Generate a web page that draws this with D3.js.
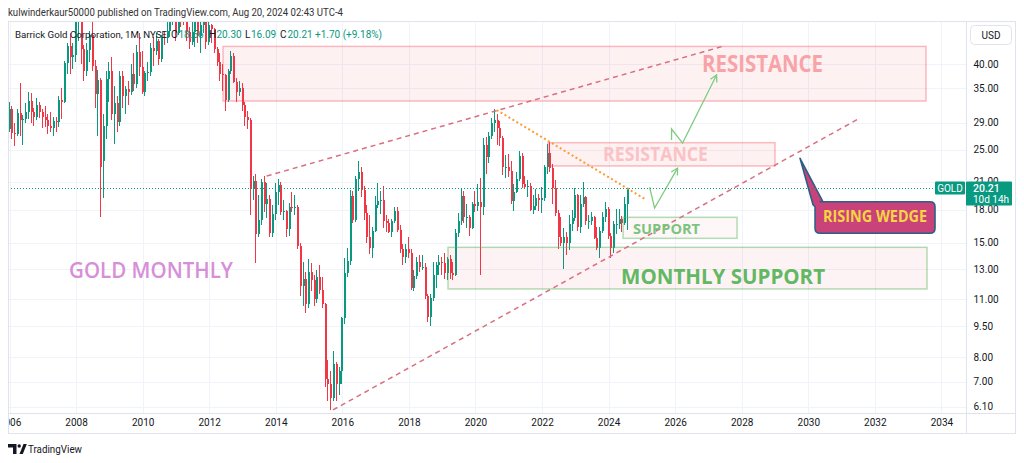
<!DOCTYPE html>
<html><head><meta charset="utf-8">
<script src="https://cdn.jsdelivr.net/npm/d3@7"></script>
<style>html,body{margin:0;padding:0;background:#fff;}svg{display:block;}</style>
</head><body>
<svg id="chart" width="1024" height="463"></svg>
<script>
// ---------- DATA (Barrick Gold, monthly, Jan 2006 .. Aug 2024) ----------
const startYear = 2006;
const opens = [
28.0,31.3,27.4,27.2,30.6,29.4,29.6,30.8,32.7,30.7,30.0,31.9,
30.7,29.9,29.5,28.5,28.2,29.2,29.1,32.9,32.5,40.3,44.1,41.7,
42.0,51.5,52.6,43.4,38.6,43.2,47.0,39.5,34.0,36.7,23.5,28.5,
36.8,38.5,30.4,32.4,29.1,37.5,33.6,34.9,34.3,37.9,35.9,42.7,
39.4,34.4,38.2,38.3,43.6,42.9,45.4,41.2,46.4,46.3,48.1,51.7,
53.2,47.4,52.1,51.9,51.0,47.6,45.3,47.6,51.0,46.6,49.5,53.3,
45.3,49.5,48.4,43.5,40.4,37.8,37.6,32.9,38.5,41.8,36.3,34.3,
35.0,31.9,29.9,29.4,20.2,21.1,15.7,17.0,21.0,18.6,19.1,15.8,
17.6,19.8,20.6,17.8,17.9,16.2,18.3,18.2,18.3,14.7,11.8,12.3,
10.7,12.8,12.2,11.0,12.4,11.6,10.7,7.1,6.9,6.4,7.7,6.9,
7.4,9.9,12.7,13.6,19.4,17.0,21.3,22.1,20.0,17.7,15.5,14.6,
16.0,18.5,18.9,19.0,16.9,16.7,15.9,16.9,17.9,16.1,14.5,13.9,
14.5,14.2,11.7,12.5,13.5,13.1,13.1,11.2,10.0,11.1,12.6,13.3,
13.5,13.4,12.7,13.7,12.7,12.6,15.8,16.9,19.4,17.3,17.3,16.3,
18.6,18.4,18.8,18.3,25.7,24.0,26.9,28.9,29.4,28.1,26.7,22.8,
22.8,22.3,18.9,19.8,21.3,24.2,20.7,20.4,20.5,18.0,18.4,19.2,
19.0,19.2,22.7,24.5,22.6,20.3,17.7,15.5,15.0,15.5,15.0,16.6,
17.2,19.5,16.4,18.6,19.3,16.9,16.9,17.3,15.4,14.6,16.0,17.3,
18.1,15.6,14.6,16.6,16.6,17.1,16.7,18.56];
const highs = [
32.5,31.8,29.0,31.2,36.0,30.3,32.3,34.3,34.2,31.5,33.3,32.5,
31.2,31.8,30.5,30.7,30.0,30.0,33.5,35.0,40.6,45.0,47.5,45.0,
52.0,55.5,56.0,44.5,45.0,48.0,50.5,41.0,38.8,37.0,30.5,38.5,
40.5,41.5,35.5,33.5,38.5,38.5,35.5,36.5,40.0,42.5,44.5,47.5,
43.0,38.5,40.5,45.0,46.5,47.5,46.0,47.0,48.0,50.5,53.5,54.5,
53.8,52.5,53.5,54.5,51.5,49.0,50.5,54.0,56.0,51.0,55.0,54.0,
50.5,50.0,48.9,44.0,42.5,40.0,38.0,39.0,43.0,42.5,37.0,36.5,
36.0,32.5,31.0,29.8,21.6,21.9,19.5,21.3,21.6,20.8,19.5,18.5,
20.8,21.3,21.0,19.0,18.0,18.7,19.8,19.5,18.5,15.0,13.5,12.8,
13.7,13.4,12.6,12.9,13.3,12.4,10.8,7.9,7.4,8.3,7.8,7.6,
10.0,13.8,14.6,20.0,19.9,21.7,23.5,22.8,20.5,18.5,17.5,16.4,
19.4,20.8,19.9,20.5,17.5,17.1,17.1,18.3,18.3,16.5,14.9,14.9,
15.5,14.5,12.9,13.9,14.0,14.0,13.4,11.3,11.3,13.5,13.5,14.0,
13.9,14.2,13.9,14.0,13.5,16.2,17.7,20.2,19.9,18.6,17.5,18.8,
19.9,20.7,21.4,26.7,26.8,27.5,29.8,31.2,30.5,29.3,27.0,24.3,
24.4,23.5,20.7,22.1,24.8,24.6,21.7,21.2,20.8,19.5,20.2,19.6,
20.4,23.0,25.8,26.1,23.1,21.2,18.0,17.3,16.3,15.9,17.5,18.0,
20.3,19.6,19.5,21.0,19.4,17.5,17.8,17.4,16.4,16.4,17.8,18.8,
18.3,15.8,16.9,18.1,18.1,17.4,19.3,20.30];
const lows = [
27.6,26.5,25.5,27.0,27.0,25.7,28.9,29.6,29.0,28.5,29.5,29.8,
28.2,28.3,27.2,27.5,27.0,27.6,28.3,29.6,32.3,38.0,37.8,39.0,
40.5,45.5,40.0,36.5,37.5,40.5,38.5,31.5,27.0,17.3,19.2,26.5,
32.5,29.5,25.8,27.5,28.5,31.5,30.5,32.0,33.8,34.5,35.0,37.5,
34.0,33.5,36.5,37.5,39.5,42.0,39.8,40.5,44.5,45.0,46.5,49.5,
45.5,47.0,49.0,49.5,45.5,43.5,44.5,44.0,45.0,42.5,47.5,43.5,
44.5,45.0,42.5,39.5,36.5,34.5,31.0,32.5,38.0,36.0,32.5,33.5,
31.0,28.5,28.0,17.5,19.0,13.4,15.5,16.5,17.8,17.2,15.5,15.5,
17.0,18.5,17.5,17.0,15.5,15.6,17.8,17.5,14.5,11.2,10.6,10.2,
10.5,11.5,10.6,10.8,11.3,10.5,6.8,6.3,6.0,6.3,6.3,6.5,
6.9,9.6,12.4,13.3,16.7,16.8,19.9,19.3,17.0,15.0,14.1,13.8,
15.9,18.2,17.6,16.3,15.9,15.8,15.5,16.7,15.9,14.2,13.3,13.4,
13.8,11.6,11.5,12.3,12.8,12.9,11.0,9.7,9.5,10.9,11.7,12.6,
12.6,12.3,12.2,12.3,12.2,12.5,15.5,16.5,16.7,16.3,15.6,16.2,
17.8,17.9,12.6,17.5,21.9,23.2,26.5,27.5,25.7,25.5,21.8,21.4,
21.5,18.6,17.9,19.7,21.1,20.3,20.2,19.3,17.9,17.6,18.0,17.9,
17.7,18.9,21.9,22.1,18.6,17.4,14.5,14.7,13.0,14.0,14.4,16.0,
16.9,16.0,15.8,18.3,16.5,16.2,16.5,15.3,14.4,13.8,15.8,16.8,
15.3,13.8,14.2,15.7,16.2,15.9,16.5,16.09];
const closes = [
31.3,27.4,27.2,30.6,29.4,29.6,30.8,32.7,30.7,30.0,31.9,30.7,
29.9,29.5,28.5,28.2,29.2,29.1,32.9,32.5,40.3,44.1,41.7,42.0,
51.5,52.6,43.4,38.6,43.2,47.0,39.5,34.0,36.7,22.7,28.5,36.8,
38.5,30.4,32.4,29.1,37.5,33.6,34.9,34.3,37.9,35.9,42.7,39.4,
34.4,38.2,38.3,43.6,42.9,45.4,41.2,46.4,46.3,48.1,51.7,53.2,
47.4,52.1,51.9,51.0,47.6,45.3,47.6,51.0,46.6,49.5,53.3,45.3,
49.5,48.4,43.5,40.4,37.8,37.6,32.9,38.5,41.8,36.3,34.3,35.0,
31.9,29.9,29.4,20.2,21.1,15.7,17.0,21.0,18.6,19.1,15.8,17.6,
19.8,20.6,17.8,17.9,16.2,18.3,18.2,18.3,14.7,11.8,12.3,10.7,
12.8,12.2,11.0,12.4,11.6,10.7,7.1,6.9,6.4,7.7,6.9,7.4,
9.9,12.7,13.6,19.4,17.0,21.3,22.1,20.0,17.7,15.5,14.6,16.0,
18.5,18.9,19.0,16.9,16.7,15.9,16.9,17.9,16.1,14.5,13.9,14.5,
14.2,11.7,12.5,13.5,13.1,13.1,11.2,10.0,11.1,12.6,13.3,13.5,
13.4,12.7,13.7,12.7,12.6,15.8,16.9,19.4,17.3,17.3,16.3,18.6,
18.4,18.8,18.3,25.7,24.0,26.9,28.9,29.4,28.1,26.7,22.8,22.8,
22.3,18.9,19.8,21.3,24.2,20.7,20.4,20.5,18.0,18.4,19.2,19.0,
19.2,22.7,24.5,22.6,20.3,17.7,15.5,15.0,15.5,15.0,16.6,17.2,
19.5,16.4,18.6,19.3,16.9,16.9,17.3,15.4,14.6,16.0,17.3,18.1,
15.6,14.6,16.6,16.6,17.1,16.7,18.51,20.21];

const yTicks = [40, 35, 29, 25, 21, 18, 15, 13, 11, 9.5, 8, 7, 6.1];
const yearTicks = [2006,2008,2010,2012,2014,2016,2018,2020,2022,2024,2026,2028,2030,2032,2034];
const lastPrice = 20.21;
const legendLabels = ["O", "H", "L", "C"];
const legendValues = ["18.56", "20.30", "16.09", "20.21"];

// drawings, anchored in (decimal year, price)
const resistanceZone = [2012.414, 2033.537, 32.67, 44.1];
const resistanceSmall = [2022.18, 2029.0, 22.87, 25.99];
const monthlySupport = [2019.175, 2033.567, 11.64, 14.63];
const supportZone = [2024.435, 2027.86, 15.37, 17.25];
const wedgeUpper = [[2013.727, 21.64], [2027.498, 44.27]];
const wedgeLower = [[2015.719, 5.99], [2031.555, 29.76]];
const downTrend = [[2020.638, 31.1], [2025.104, 19.05]];
const arrowPath1 = [[2025.232, 20.37], [2025.382, 18.16], [2026.073, 22.61]];
const arrowPath2 = [[2025.892, 26.37], [2025.892, 28.02], [2026.223, 25.94], [2027.245, 37.68]];
const calloutTip = [2029.752, 23.85];
const calloutBox = [2030.203, 2033.808, 15.80, 18.79];
const textAnchors = [
  {t:"RESISTANCE", a:[2026.807, 2030.444, 40.18]},
  {t:"RESISTANCE", a:[2023.833, 2026.988, 24.42]},
  {t:"MONTHLY SUPPORT", a:[2024.374, 2030.504, 12.47]},
  {t:"SUPPORT", a:[2024.735, 2026.748, 16.18]},
  {t:"GOLD MONTHLY", a:[2007.787, 2012.715, 12.92]},
  {t:"RISING WEDGE", a:[2030.444, 2033.569, 17.31]}
];
const textStyles = [
  {size:23, color:"#f8a3a8", weight:700},
  {size:19.5, color:"#fbc2c5", weight:700},
  {size:21, color:"#62b863", weight:700},
  {size:14, color:"#7cc47e", weight:700},
  {size:22, color:"#d68fd8", weight:600},
  {size:15.5, color:"#f7d443", weight:700}
];

// ---------- LAYOUT ----------
const W = 1024, H = 463;
const L = 8, R = 966.5, T = 21, B = 413;
const UI = "Roboto, 'Noto Sans', sans-serif";
const ANN = "'Open Sans', 'Noto Sans', sans-serif";
const UP = "#089981", DOWN = "#f23645";

const svg = d3.select("#chart");
svg.append("rect").attr("width", W).attr("height", H).attr("fill", "#fff");

const x = d3.scaleLinear().domain([2008, 2034]).range([76.1, 941.4]);
const y = d3.scaleLog().domain([5.89, 50.7]).range([B, T]);

const defs = svg.append("defs");
defs.append("clipPath").attr("id", "plotclip").append("rect")
  .attr("x", L).attr("y", T).attr("width", R - L).attr("height", B - T);
defs.append("clipPath").attr("id", "xclip").append("rect")
  .attr("x", L + 1).attr("y", B).attr("width", R - L - 1).attr("height", 20);

// header
svg.append("text").attr("x", 8).attr("y", 16).attr("font-family", UI).attr("font-size", 11)
  .attr("fill", "#333").attr("textLength", 335).attr("lengthAdjust", "spacingAndGlyphs")
  .text("kulwinderkaur50000 published on TradingView.com, Aug 20, 2024 02:43 UTC-4");

const plot = svg.append("g").attr("clip-path", "url(#plotclip)");

// grid
plot.append("g").selectAll("line").data(yTicks).join("line")
  .attr("x1", L).attr("x2", R).attr("y1", d => Math.round(y(d)) + 0.5).attr("y2", d => Math.round(y(d)) + 0.5)
  .attr("stroke", "#f0f3fa").attr("stroke-width", 1);
plot.append("g").selectAll("line").data(yearTicks).join("line")
  .attr("y1", T).attr("y2", B).attr("x1", d => Math.round(x(d)) + 0.5).attr("x2", d => Math.round(x(d)) + 0.5)
  .attr("stroke", "#f0f3fa").attr("stroke-width", 1);

// legend
const lg = svg.append("g").attr("font-family", UI).attr("font-size", 10);
lg.append("text").attr("x", 15).attr("y", 37.5).attr("fill", "#131722").attr("font-size", 9.7)
  .text("Barrick Gold Corporation, 1M, NYSE");
const legendX = [171, 209, 245, 280];
legendLabels.forEach((k, i) => {
  lg.append("text").attr("x", legendX[i]).attr("y", 37.5).attr("fill", "#131722").text(k);
  lg.append("text").attr("x", legendX[i] + (k === "L" ? 6 : 7.5)).attr("y", 37.5).attr("fill", UP).text(legendValues[i]);
});
lg.append("text").attr("x", 315).attr("y", 37.5).attr("fill", UP).text("+1.70 (+9.18%)");

// candles
const candles = closes.map((c, i) => ({t: startYear + i / 12, o: opens[i], h: highs[i], l: lows[i], c}));
const cg = plot.append("g").attr("shape-rendering", "crispEdges");
const col = d => d.c >= d.o ? UP : DOWN;
cg.selectAll("rect.wick").data(candles).join("rect").attr("class", "wick")
  .attr("x", d => Math.round(x(d.t)) - 1).attr("width", 1)
  .attr("y", d => y(d.h)).attr("height", d => Math.max(1, y(d.l) - y(d.h)))
  .attr("fill", col);
cg.selectAll("rect.body").data(candles).join("rect").attr("class", "body")
  .attr("x", d => Math.round(x(d.t)) - 1).attr("width", 2)
  .attr("y", d => y(Math.max(d.o, d.c)))
  .attr("height", d => Math.max(1, y(Math.min(d.o, d.c)) - y(Math.max(d.o, d.c))))
  .attr("fill", col);

// zones
function zone(z, fill, stroke) {
  plot.append("rect").attr("x", x(z[0])).attr("width", x(z[1]) - x(z[0]))
    .attr("y", y(z[3])).attr("height", y(z[2]) - y(z[3]))
    .attr("fill", fill).attr("stroke", stroke).attr("stroke-width", 1.5);
}
zone(resistanceZone, "rgba(242,54,69,0.07)", "rgba(242,54,69,0.33)");
zone(resistanceSmall, "rgba(242,54,69,0.07)", "rgba(242,54,69,0.33)");
zone(monthlySupport, "rgba(242,54,69,0.06)", "rgba(76,175,80,0.42)");
zone(supportZone, "rgba(242,54,69,0.04)", "rgba(76,175,80,0.42)");

const line = d3.line().x(d => x(d[0])).y(d => y(d[1]));
// wedge lines
[wedgeUpper, wedgeLower].forEach(p => plot.append("path").attr("d", line(p))
  .attr("fill", "none").attr("stroke", "#d8707f").attr("stroke-width", 1.5).attr("stroke-dasharray", "5 4"));
// orange dotted trend
plot.append("path").attr("d", line(downTrend)).attr("fill", "none")
  .attr("stroke", "#fb9c32").attr("stroke-width", 2).attr("stroke-dasharray", "2 2.6");

// green arrows
function arrow(p) {
  plot.append("path").attr("d", line(p)).attr("fill", "none").attr("stroke", "#7fcc80")
    .attr("stroke-width", 1.3).attr("stroke-linejoin", "miter");
  const a = p[p.length - 2], b = p[p.length - 1];
  const ax = x(a[0]), ay = y(a[1]), bx = x(b[0]), by = y(b[1]);
  const ang = Math.atan2(by - ay, bx - ax), len = 7.5;
  const pts = [[bx - len * Math.cos(ang - 0.5), by - len * Math.sin(ang - 0.5)], [bx, by],
               [bx - len * Math.cos(ang + 0.5), by - len * Math.sin(ang + 0.5)]];
  plot.append("path").attr("d", "M" + pts.map(q => q.join(",")).join("L"))
    .attr("fill", "none").attr("stroke", "#7fcc80").attr("stroke-width", 1.3);
}
arrow(arrowPath1);
arrow(arrowPath2);

// callout
{
  const x0 = x(calloutBox[0]), x1 = x(calloutBox[1]), y0 = y(calloutBox[3]), y1 = y(calloutBox[2]);
  const tx = x(calloutTip[0]), ty = y(calloutTip[1]), r = 5;
  const bl = x0 - 2, br = x0 + 8;
  const d = `M${x0 + r},${y0} L${br},${y0} L${tx},${ty} L${bl},${y0 + 3} L${x0},${y0 + r} L${x0},${y1 - r} Q${x0},${y1} ${x0 + r},${y1} L${x1 - r},${y1} Q${x1},${y1} ${x1},${y1 - r} L${x1},${y0 + r} Q${x1},${y0} ${x1 - r},${y0} Z`;
  plot.append("path").attr("d", d).attr("fill", "#c94279").attr("stroke", "#2d5f86").attr("stroke-width", 1.6).attr("stroke-linejoin", "round");
}

// annotation texts
textAnchors.forEach((ta, i) => {
  const s = textStyles[i];
  const x0 = x(ta.a[0]), x1 = x(ta.a[1]);
  plot.append("text").attr("x", x0).attr("y", y(ta.a[2]) + s.size * 0.357)
    .attr("font-family", ANN).attr("font-size", s.size).attr("font-weight", s.weight)
    .attr("fill", s.color).attr("textLength", x1 - x0).attr("lengthAdjust", "spacingAndGlyphs").text(ta.t);
});

// last price line
const py = Math.round(y(lastPrice)) + 0.5;
plot.append("line").attr("x1", L).attr("x2", 935).attr("y1", py).attr("y2", py)
  .attr("stroke", UP).attr("stroke-width", 1).attr("stroke-dasharray", "1 2");

// separators
svg.append("line").attr("x1", L).attr("x2", 1015.5).attr("y1", B + 0.5).attr("y2", B + 0.5).attr("stroke", "#e0e3eb");
svg.append("line").attr("x1", R).attr("x2", R).attr("y1", T).attr("y2", 433.5).attr("stroke", "#e0e3eb");
svg.append("rect").attr("x", 8.5).attr("y", 21.5).attr("width", 1007).attr("height", 412)
  .attr("fill", "none").attr("stroke", "#e0e3eb");

// axes
const yAxis = d3.axisRight(y).tickValues(yTicks).tickFormat(d3.format(".2f")).tickSize(0).tickPadding(7);
const gy = svg.append("g").attr("transform", `translate(${R},0)`).call(yAxis);
gy.select(".domain").remove();
gy.selectAll("text").attr("font-family", UI).attr("font-size", 10).attr("fill", "#131722");

const xAxis = d3.axisBottom(x).tickValues(yearTicks).tickFormat(d3.format("d")).tickSize(0).tickPadding(6);
const gx = svg.append("g").attr("clip-path", "url(#xclip)").append("g").attr("transform", `translate(0,${B})`).call(xAxis);
gx.select(".domain").remove();
gx.selectAll("text").attr("font-family", UI).attr("font-size", 10).attr("fill", "#131722");

// USD box
svg.append("rect").attr("x", 970.5).attr("y", 25.5).attr("width", 41).attr("height", 19).attr("rx", 4)
  .attr("fill", "#fff").attr("stroke", "#e0e3eb");
svg.append("text").attr("x", 991).attr("y", 38.5).attr("text-anchor", "middle").attr("font-family", UI)
  .attr("font-size", 10).attr("fill", "#131722").text("USD");

// price labels
const ly = y(lastPrice);
svg.append("rect").attr("x", 935).attr("y", ly - 7).attr("width", 30).attr("height", 13).attr("fill", UP).attr("rx", 1);
svg.append("text").attr("x", 950).attr("y", ly + 3.5).attr("text-anchor", "middle").attr("font-family", UI)
  .attr("font-size", 10).attr("fill", "#fff").text("GOLD");
svg.append("rect").attr("x", 966).attr("y", ly - 7).attr("width", 46).attr("height", 24).attr("fill", UP).attr("rx", 1);
svg.append("text").attr("x", 973).attr("y", ly + 3.7).attr("font-family", UI).attr("font-size", 10.5)
  .attr("font-weight", 500).attr("fill", "#fff").text(lastPrice.toFixed(2));
svg.append("text").attr("x", 973).attr("y", ly + 15).attr("font-family", UI).attr("font-size", 10)
  .attr("fill", "#fff").text("10d 14h");

// TradingView logo
const logo = svg.append("g").attr("fill", "#131722");
logo.append("path").attr("d", "M8,444 H16.5 V454 H13 V447.5 H8 Z");
logo.append("circle").attr("cx", 19.2).attr("cy", 446).attr("r", 1.7);
logo.append("path").attr("d", "M19.5,454 L23.5,444 H26.8 L22.8,454 Z");
svg.append("text").attr("x", 28).attr("y", 453).attr("font-family", UI).attr("font-size", 11)
  .attr("fill", "#131722").attr("textLength", 54).attr("lengthAdjust", "spacingAndGlyphs").text("TradingView");
</script>
</body></html>
